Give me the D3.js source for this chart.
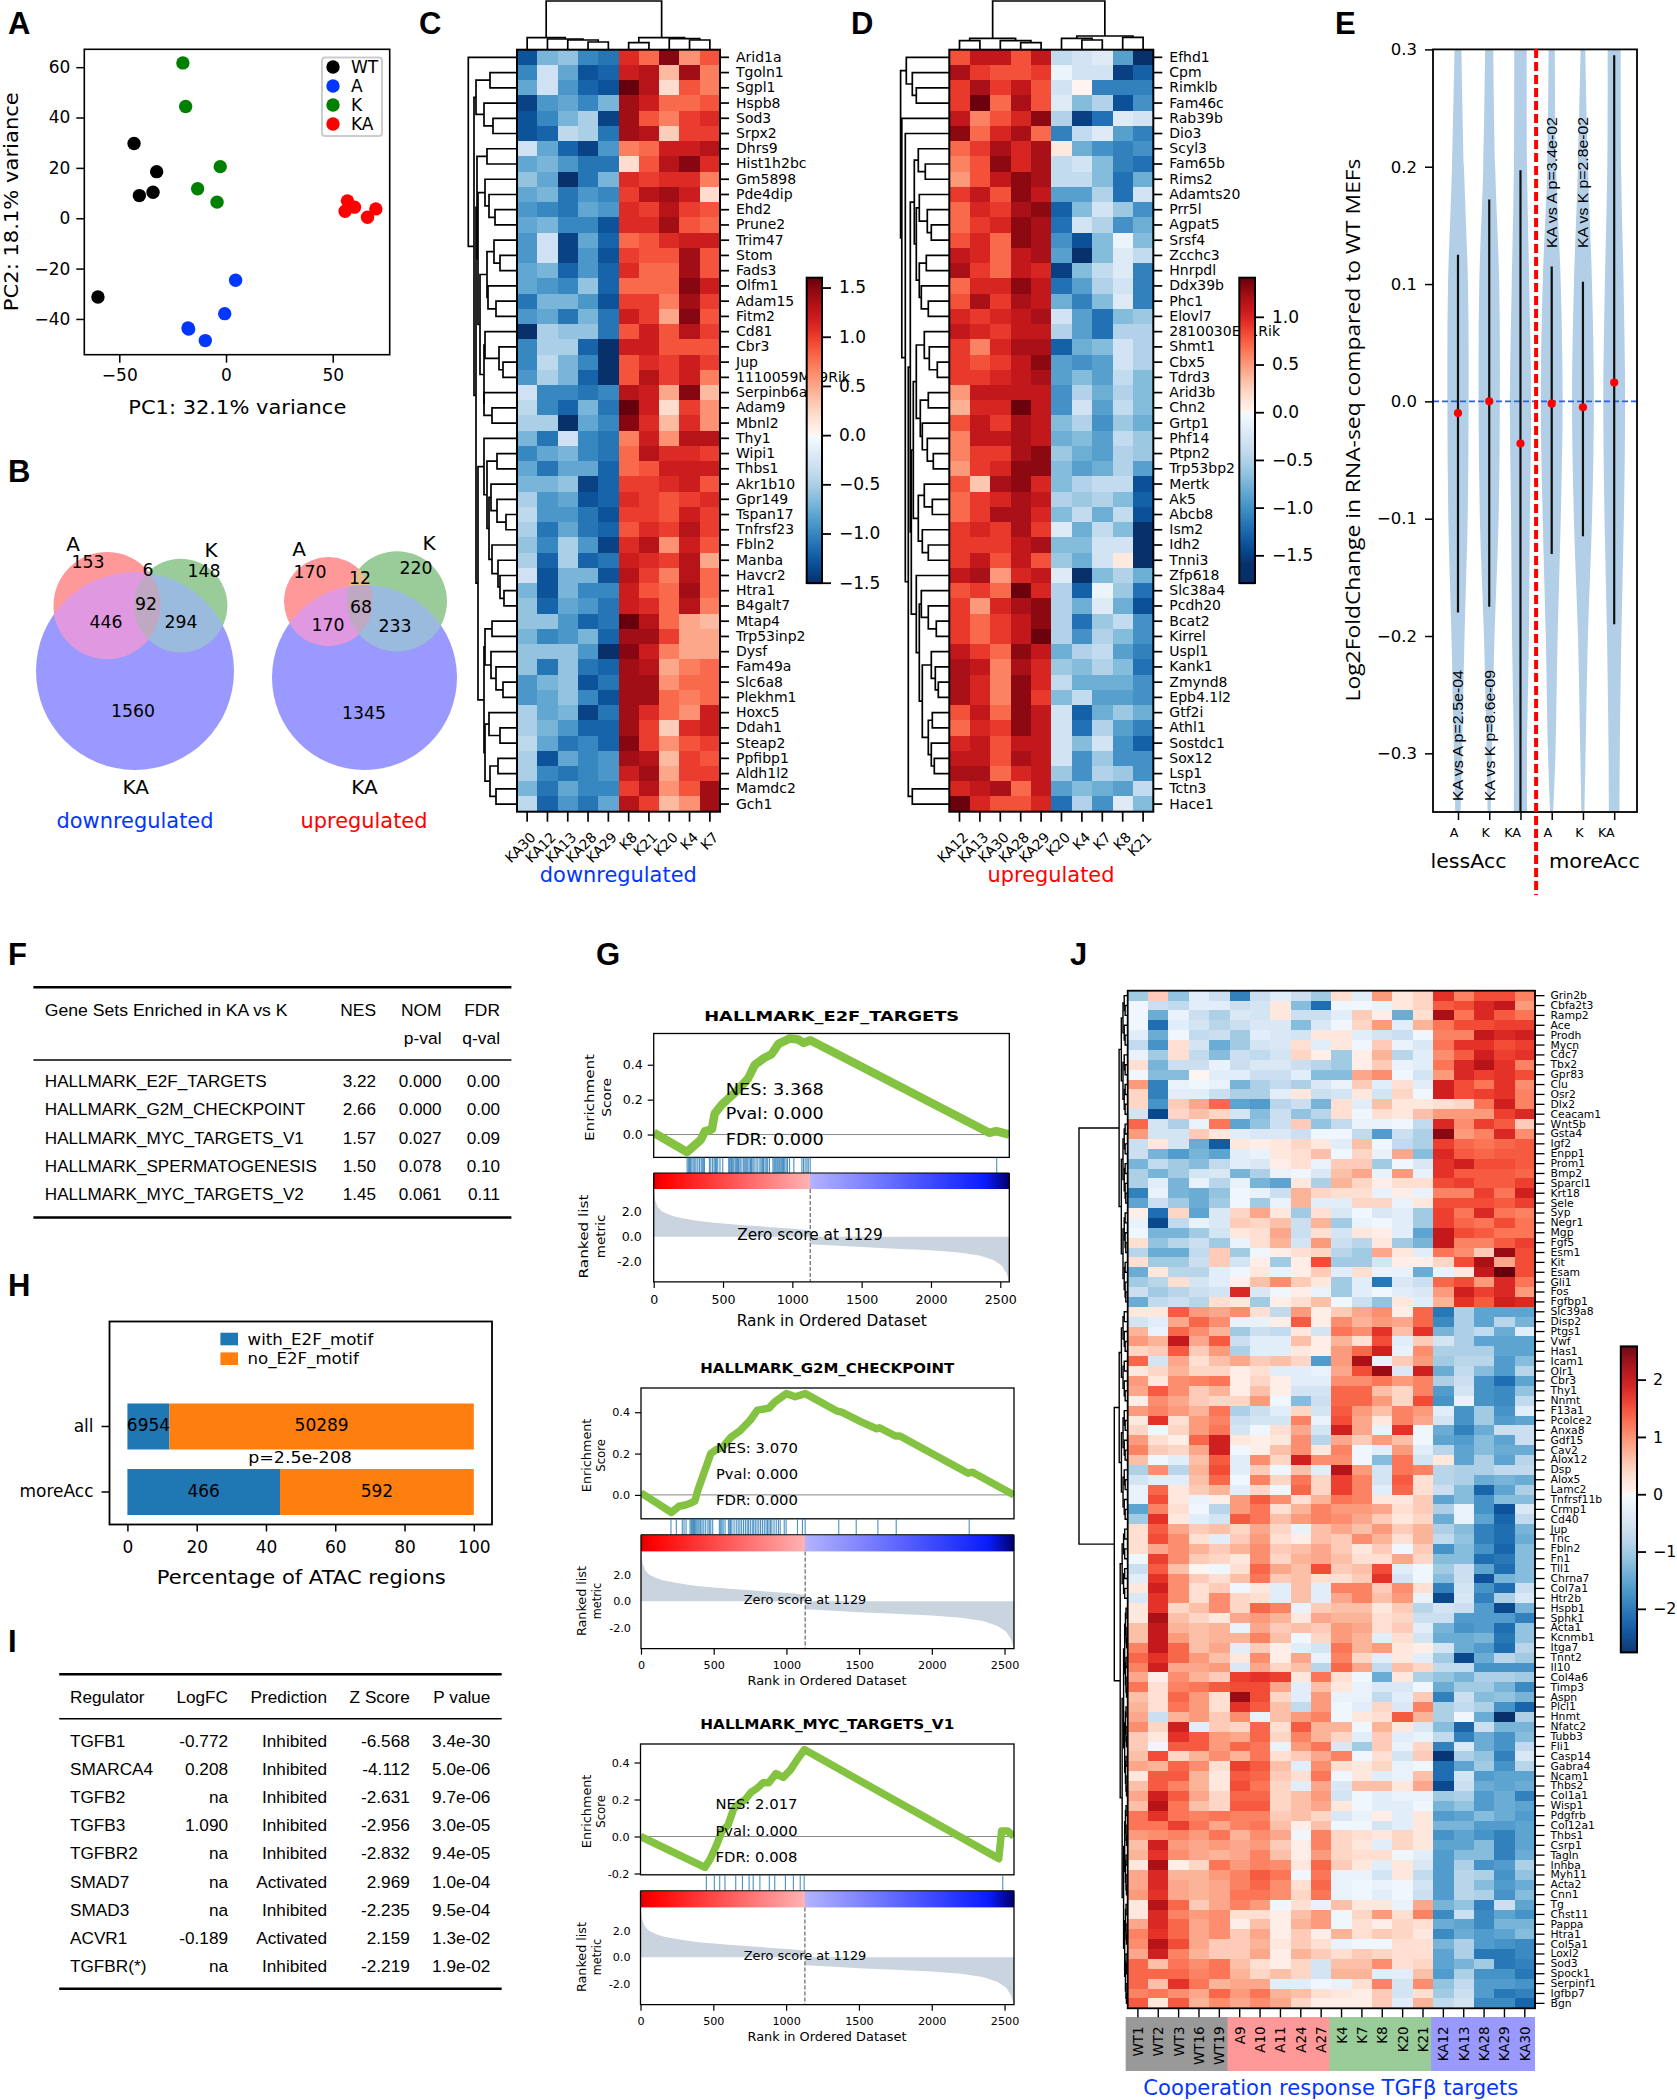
<!DOCTYPE html>
<html><head><meta charset="utf-8">
<script src="https://cdn.jsdelivr.net/npm/d3@7"></script>
<style>html,body{margin:0;padding:0;background:#fff}svg{display:block}</style>
</head><body>
<script>
// ---------- DATA ----------
const pcaGroups = ["WT","A","K","KA"];
const pcaColors = ["#000000","#0336ff","#008000","#ff0000"];
const pcaPoints = [
 [[-43.1,29.7],[-32.5,18.5],[-34.2,10.3],[-40.6,9.0],[-60,-31.3]],
 [[4.5,-24.6],[-0.6,-37.9],[-17.5,-44],[-9.7,-48.6],[-17.8,-43.6]],
 [[-20.2,61.7],[-18.9,44.4],[-2.7,20.5],[-13.3,11.7],[-4.2,6.4]],
 [[56.9,6.9],[60.2,4.4],[55.8,2.8],[70.2,3.7],[66.3,0.4]]
];
const vennDown = {c:[[107,605.5,53.5],[180.7,605.5,46.7],[135,671,99]],
 names:[["A",73,544],["K",211,550],["KA",135.7,787]],
 nums:[["153",88,562],["148",204,571],["6",148,570],["92",146,604],["446",106,622],["294",181,622],["1560",133,711]]};
const vennUp = {c:[[328.5,601.5,44.5],[397,601.3,50],[364.5,677.5,92.5]],
 names:[["A",299,549],["K",429,543],["KA",364.5,787]],
 nums:[["170",310,572],["220",416,568],["12",360,578],["68",361,607],["170",328,625],["233",395,626],["1345",364,713]]};

const cRowNames = ["Arid1a","Tgoln1","Sgpl1","Hspb8","Sod3","Srpx2","Dhrs9","Hist1h2bc","Gm5898","Pde4dip","Ehd2","Prune2","Trim47","Stom","Fads3","Olfm1","Adam15","Fitm2","Cd81","Cbr3","Jup","1110059M19Rik","Serpinb6a","Adam9","Mbnl2","Thy1","Wipi1","Thbs1","Akr1b10","Gpr149","Tspan17","Tnfrsf23","Fbln2","Manba","Havcr2","Htra1","B4galt7","Mtap4","Trp53inp2","Dysf","Fam49a","Slc6a8","Plekhm1","Hoxc5","Ddah1","Steap2","Ppfibp1","Aldh1l2","Mamdc2","Gch1"];
const cColNames = ["KA30","KA12","KA13","KA28","KA29","K8","K21","K20","K4","K7"];
const cValues = [
[-13,-7,-6,-10,-11,11,8,15,6,9],[-10,-3,-8,-13,-12,12,13,4,14,7],[-8,-3,-9,-12,-13,16,13,2,9,7],[-14,-9,-8,-10,-7,14,12,8,8,9],[-13,-10,-7,-5,-14,14,9,7,10,11],
[-13,-12,-4,-5,-11,14,13,3,10,10],[-3,-8,-12,-14,-9,7,8,12,12,13],[-8,-7,-9,-11,-11,2,9,13,15,11],[-6,-8,-15,-11,-7,11,10,11,11,7],[-8,-7,-11,-9,-10,10,13,14,12,2],
[-9,-10,-11,-8,-9,11,10,13,10,9],[-8,-7,-10,-10,-13,11,11,14,9,8],[-9,-3,-14,-8,-12,8,9,11,12,12],[-9,-3,-14,-9,-13,10,9,9,14,9],[-8,-7,-12,-9,-12,11,8,8,14,9],
[-8,-9,-10,-6,-12,8,8,8,15,12],[-11,-7,-7,-9,-13,10,10,7,14,10],[-9,-8,-11,-7,-11,12,10,5,15,9],[-15,-5,-6,-6,-11,9,12,9,13,10],[-10,-5,-5,-12,-15,12,12,9,9,9],
[-10,-4,-7,-10,-15,9,11,10,12,10],[-9,-5,-7,-12,-15,9,13,10,12,7],[-3,-10,-10,-11,-10,13,12,5,15,4],[-4,-10,-12,-7,-11,16,12,2,10,6],[-5,-5,-15,-8,-10,15,11,4,11,6],
[-7,-11,-3,-10,-11,7,12,6,13,13],[-10,-8,-7,-10,-11,8,13,11,11,10],[-8,-11,-8,-8,-12,8,9,12,12,12],[-7,-7,-6,-14,-12,10,10,11,12,9],[-5,-9,-8,-13,-12,11,10,9,10,11],
[-4,-9,-9,-11,-13,10,10,9,12,10],[-5,-11,-8,-11,-12,9,11,10,13,10],[-6,-10,-5,-9,-14,11,13,6,12,9],[-5,-12,-5,-12,-11,12,11,10,13,5],[-3,-13,-7,-7,-13,13,10,7,13,8],
[-7,-13,-7,-10,-10,12,9,8,14,8],[-6,-12,-8,-9,-11,12,11,8,13,7],[-6,-6,-9,-12,-11,16,13,8,5,4],[-7,-10,-9,-7,-12,14,14,10,5,5],[-6,-6,-6,-9,-15,15,12,7,5,5],
[-6,-11,-6,-11,-12,14,13,5,7,8],[-9,-7,-6,-13,-11,14,14,6,8,8],[-9,-8,-6,-10,-13,14,14,8,7,8],[-5,-8,-7,-14,-11,14,11,8,6,12],[-5,-7,-9,-12,-12,14,10,3,11,12],
[-4,-8,-11,-10,-12,15,10,6,9,10],[-5,-13,-8,-10,-9,14,13,4,10,9],[-5,-10,-11,-10,-9,12,14,5,10,10],[-7,-11,-8,-10,-10,10,13,6,9,14],[-4,-12,-9,-11,-8,13,10,4,6,14]];
const cRowTree = [48.7,1,[43,[41,[27,1,1],[33,1,[24,1,1]]],[41,
  [40,[30,1,1],[39,[32,1,[28,1,[22,1,1]]],[37,[30,[23,1,[17,1,1]],[29,1,[21,1,1]]],[33,[32,1,[18,1,[14,1,1]]],[33,1,[25,1,1]]]]]],
  [39,[33,1,[30,[20,1,1],[28,[26,1,[20,1,[11,1,1]]],[25,1,[19,1,[17,1,[13,1,1]]]]]]],[33,[32,[25,1,1],[26,1,[21,1,[14,1,1]]]],[32,[28,1,[17,1,1]],[27,[19,1,1],[21,1,1]]]]]]]];
const cColTree = [48.7,[12,1,[10.7,1,[9.7,1,[7.7,1,1]]]],[12,[7,1,1],[11,1,[9.7,1,1]]]];

const dRowNames = ["Efhd1","Cpm","Rimklb","Fam46c","Rab39b","Dio3","Scyl3","Fam65b","Rims2","Adamts20","Prr5l","Agpat5","Srsf4","Zcchc3","Hnrpdl","Ddx39b","Phc1","Elovl7","2810030E01Rik","Shmt1","Cbx5","Tdrd3","Arid3b","Chn2","Grtp1","Phf14","Ptpn2","Trp53bp2","Mertk","Ak5","Abcb8","Ism2","Idh2","Tnni3","Zfp618","Slc38a4","Pcdh20","Bcat2","Kirrel","Uspl1","Kank1","Zmynd8","Epb4.1l2","Gtf2i","Athl1","Sostdc1","Sox12","Lsp1","Tctn3","Hace1"];
const dColNames = ["KA12","KA13","KA30","KA28","KA29","K20","K4","K7","K8","K21"];
const dValues = [
[8,11,11,8,11,-4,-3,-2,-9,-18],[12,9,8,8,9,-1,-3,-3,-15,-13],[9,12,9,11,8,-3,0,-11,-11,-11],[9,14,7,12,8,-2,-7,-5,-14,-10],[11,6,8,10,13,-5,-15,-12,-2,-3],
[13,7,10,12,7,-11,-4,-2,-9,-11],[7,9,12,10,12,1,-8,-10,-11,-10],[6,8,13,10,12,-4,-3,-7,-11,-12],[5,8,11,13,12,-4,-4,-7,-12,-8],[9,11,8,13,11,-9,-9,-5,-12,-3],
[7,10,9,12,13,-13,-7,-3,-6,-10],[7,9,10,13,12,-12,-3,-5,-10,-8],[8,10,7,13,12,-10,-14,-7,-1,-7],[11,10,7,11,12,-9,-16,-7,-2,-4],[12,9,7,11,10,-15,-7,-4,-2,-11],
[7,10,10,13,11,-12,-9,-5,-3,-11],[8,12,9,12,11,-8,-11,-7,-2,-11],[10,9,10,11,12,-3,-9,-12,-7,-6],[11,10,9,11,11,-5,-9,-12,-5,-5],[9,6,10,12,12,-13,-8,-7,-3,-5],
[9,8,9,11,13,-9,-10,-9,-3,-5],[9,9,10,11,12,-9,-7,-9,-4,-7],[5,11,11,11,11,-10,-5,-8,-5,-7],[4,10,10,14,11,-10,-3,-9,-4,-7],[8,11,9,12,11,-7,-5,-10,-6,-8],
[6,11,11,12,11,-8,-7,-9,-4,-6],[6,9,9,12,13,-6,-8,-9,-5,-6],[5,9,10,13,13,-7,-9,-8,-5,-9],[8,3,12,13,10,-7,-5,-4,-4,-14],[7,9,10,12,11,-5,-6,-5,-7,-13],
[7,9,12,12,10,-7,-4,-8,-4,-14],[9,10,9,12,9,-2,-8,-4,-7,-16],[9,9,9,11,12,-7,-7,-3,-3,-16],[9,11,8,11,8,-6,-8,-3,1,-18],[11,12,5,10,11,-2,-16,-7,-5,-8],
[8,9,7,14,10,-5,-13,-1,-6,-12],[9,5,10,12,13,-5,-8,-2,-8,-14],[9,7,9,11,13,-5,-12,-6,-4,-10],[9,7,9,11,14,-5,-10,-5,-7,-10],[11,9,7,13,11,-8,-5,-4,-9,-11],
[12,11,6,12,10,-6,-7,-5,-7,-12],[12,10,6,13,10,-4,-8,-8,-8,-10],[12,10,6,13,9,-7,-4,-9,-9,-10],[8,11,7,13,11,-3,-13,-8,-6,-8],[7,10,9,13,11,-3,-12,-5,-9,-11],
[10,11,8,11,11,-3,-7,-3,-10,-13],[11,11,8,12,11,-3,-10,-6,-10,-10],[12,12,7,10,11,-6,-10,-5,-6,-10],[10,11,12,7,11,-9,-7,-8,-9,-4],[14,10,8,8,10,-12,-5,-10,-2,-7]];
const dRowTree = [48.7,[43,1,[37,1,[33,1,1]]],[47.5,1,[44,1,[41,
  [39,[35,[31,1,[24,1,1]],[33,[30,1,[22,1,[18,1,1]]],[30,[23,1,1],[28,1,[21,1,1]]]]],
  [38,[36,[33,[25,1,[20,1,[12,1,1]]],[29,[21,1,1],[27,1,[22,1,[16,1,1]]]]],[31,[25,1,[17,1,1]],[27,1,[21,1,1]]]],
  [33,1,[30,[28,1,[21,1,[13,1,1]]],[27,[18,1,[14,1,[11,1,1]]],[21,[17,1,1],[18,1,[15,1,1]]]]]]]],[37,1,1]]]]];
const dColTree = [48.7,[11.3,[9,1,1],[9,1,[7,1,1]]],[13.7,[11.3,1,[9.7,1,1]],[12.3,1,1]]];

const violinY = [0.3,0.2,0.1,0,-0.1,-0.2,-0.3,-0.35];
const violinWidths = [
 [.11,.19,.32,.34,.31,.21,.13,.085],[.13,.19,.32,.34,.30,.17,.085,.05],[.2,.21,.28,.34,.3,.27,.21,.21],
 [.1,.14,.29,.35,.29,.19,.12,.05],[.075,.16,.29,.35,.29,.16,.085,.05],[.21,.22,.3,.35,.31,.23,.18,.17]];
const violinLabels = ["A","K","KA","A","K","KA"];
const violinLow = [-0.18,-0.175,-0.35,-0.13,-0.115,-0.19];
const violinHigh = [0.125,0.172,0.197,0.115,0.102,0.295];
const violinMedian = [-0.01,0,-0.036,-0.002,-0.005,0.016];

const fHeader = ["Gene Sets Enriched in KA vs K","NES","NOM","FDR"];
const fRows = [["HALLMARK_E2F_TARGETS","3.22","0.000","0.00"],["HALLMARK_G2M_CHECKPOINT","2.66","0.000","0.00"],["HALLMARK_MYC_TARGETS_V1","1.57","0.027","0.09"],["HALLMARK_SPERMATOGENESIS","1.50","0.078","0.10"],["HALLMARK_MYC_TARGETS_V2","1.45","0.061","0.11"]];

const hCategories = ["all","moreAcc"];
const hWith = [6954,466];
const hWithout = [50289,592];

const iHeader = ["Regulator","LogFC","Prediction","Z Score","P value"];
const iRows = [["TGFB1","-0.772","Inhibited","-6.568","3.4e-30"],["SMARCA4","0.208","Inhibited","-4.112","5.0e-06"],["TGFB2","na","Inhibited","-2.631","9.7e-06"],["TGFB3","1.090","Inhibited","-2.956","3.0e-05"],["TGFBR2","na","Inhibited","-2.832","9.4e-05"],["SMAD7","na","Activated","2.969","1.0e-04"],["SMAD3","na","Inhibited","-2.235","9.5e-04"],["ACVR1","-0.189","Activated","2.159","1.3e-02"],["TGFBR(*)","na","Inhibited","-2.219","1.9e-02"]];

const metricRank = [0,10,30,60,100,150,220,300,400,500,650,800,950,1050,1128,1129,1300,1500,1750,2000,2200,2350,2450,2510,2545,2565];
const metricValue = [3.8,2.9,2.35,2.0,1.8,1.6,1.45,1.3,1.15,1.05,.92,.8,.68,.6,.5,-.6,-.7,-.82,-.95,-1.08,-1.25,-1.5,-1.85,-2.3,-2.9,-3.6];
const es1 = [[0,.01],[240,-.1],[340,-.03],[370,.02],[420,.03],[440,.12],[490,.17],[530,.2],[600,.25],[680,.32],[730,.40],[800,.44],[850,.46],[900,.52],[980,.55],[1040,.545],[1080,.525],[1130,.54],[2420,.01],[2470,.02],[2565,0]];
const es2 = [[0,.01],[210,-.085],[260,-.055],[300,-.05],[340,-.04],[370,-.03],[390,.02],[420,.08],[450,.14],[480,.2],[520,.22],[560,.23],[620,.28],[680,.31],[750,.36],[800,.41],[880,.42],[920,.45],[1000,.49],[1060,.475],[1130,.49],[1350,.405],[1380,.4],[1480,.365],[1510,.355],[1620,.32],[1640,.325],[1750,.285],[1780,.285],[2250,.105],[2280,.11],[2565,0]];
const es3 = [[0,0],[442,-.167],[480,-.12],[520,-.05],[560,.03],[600,.06],[640,.15],[680,.18],[720,.2],[760,.24],[800,.26],[840,.29],[880,.29],[930,.34],[980,.32],[1030,.36],[1080,.42],[1125,.47],[2440,-.11],[2460,-.12],[2480,.03],[2520,.03],[2565,0]];
const hits1 = [241,250,258,266,275,285,296,305,318,330,342,350,358,366,402,412,425,436,445,452,462,478,498,541,548,556,562,570,578,588,596,604,612,622,630,645,652,660,668,678,688,698,705,715,724,738,751,766,775,784,792,803,812,822,835,860,868,875,882,890,897,905,912,920,928,936,945,955,965,980,1011,1069,1080,1092,1105,1115,1129,2474];
const hits2 = [206,243,284,296,310,337,345,350,356,362,368,376,384,392,400,410,420,432,445,460,470,480,493,539,548,556,565,578,601,610,616,625,640,655,668,680,692,705,718,730,740,752,765,775,786,798,810,822,835,848,860,870,880,890,900,915,930,945,957,985,998,1076,1110,1129,1360,1480,1629,1755,2257];
const hits3 = [452,507,544,580,654,700,746,774,820,885,922,995,1050,1097,1124,2488];
const gseaTitles = ["HALLMARK_E2F_TARGETS","HALLMARK_G2M_CHECKPOINT","HALLMARK_MYC_TARGETS_V1"];
const gseaStats = [["NES: 3.368","Pval: 0.000","FDR: 0.000"],["NES: 3.070","Pval: 0.000","FDR: 0.000"],["NES: 2.017","Pval: 0.000","FDR: 0.008"]];

const jRowNames = ["Grin2b","Cbfa2t3","Ramp2","Ace","Prodh","Mycn","Cdc7","Tbx2","Gpr83","Clu","Osr2","Dlx2","Ceacam1","Wnt5b","Gsta4","Igf2","Enpp1","Prom1","Bmp2","Sparcl1","Krt18","Sele","Syp","Negr1","Mgp","Fgf5","Esm1","Kit","Esam","Gli1","Fos","Fgfbp1","Slc39a8","Disp2","Ptgs1","Vwf","Has1","Icam1","Olr1","Cbr3","Thy1","Nnmt","F13a1","Pcolce2","Anxa8","Gdf15","Cav2","Alox12","Dsp","Alox5","Lamc2","Tnfrsf11b","Crmp1","Cd40","Jup","Tnc","Fbln2","Fn1","Tll1","Chrna7","Col7a1","Htr2b","Hspb1","Sphk1","Acta1","Kcnmb1","Itga7","Tnnt2","Il10","Col4a6","Timp3","Aspn","Plcl1","Hnmt","Nfatc2","Tubb3","Fli1","Casp14","Gabra4","Ncam1","Thbs2","Col1a1","Wisp1","Pdgfrb","Col12a1","Thbs1","Csrp1","Tagln","Inhba","Myh11","Acta2","Cnn1","Tg","Chst11","Pappa","Htra1","Col5a1","Loxl2","Sod3","Spock1","Serpinf1","Igfbp7","Bgn"];
const jColNames = ["WT1","WT2","WT3","WT16","WT19","A9","A10","A11","A24","A27","K4","K7","K8","K20","K21","KA12","KA13","KA28","KA29","KA30"];
const jValues = [
[-10,5,-11,-3,-6,-19,-6,-3,-6,-10,3,-3,9,2,4,17,11,15,15,11],[-1,-6,-7,-3,-3,-6,-5,2,-12,-21,-1,-1,-2,2,4,14,15,18,20,9],[-1,-14,-2,-6,-9,-4,-5,2,-6,-6,-3,5,1,-14,3,22,12,18,14,12],[-1,-21,-3,-5,-8,-6,-4,-4,-12,-4,-1,4,9,-3,7,12,15,15,16,16],
[-3,-14,-1,-7,-6,-10,-3,-4,-5,2,2,-3,-5,-6,-1,11,11,20,18,19],[-7,-17,3,-5,-14,-10,-5,-4,3,-3,2,-1,5,-2,-4,12,17,17,15,16],[-2,-10,3,-7,-12,-6,-7,-5,4,1,-10,1,7,-8,-3,10,14,19,16,17],[3,-13,-6,-6,-2,-6,-4,-4,-6,-8,-10,1,5,-2,-3,12,18,21,17,11],
[-1,-12,-12,0,-3,-3,-6,-6,-3,-12,-12,8,10,-1,-5,9,18,16,17,15],[9,-19,-2,-1,-2,-13,-9,-7,-9,-4,-2,5,-3,3,-3,19,15,12,17,10],[4,-19,-3,-3,-6,-9,-9,-3,2,-6,-5,2,-5,4,-1,19,15,16,17,11],[4,-17,5,8,13,-15,-16,-8,-6,-13,3,-3,6,2,2,3,4,12,19,11],
[-5,-25,4,6,4,-5,-12,-6,-11,-8,3,-1,3,2,6,9,9,9,16,18],[13,-5,-9,-2,12,-15,-11,-6,5,-11,-7,-2,-2,-1,-7,18,10,16,14,5],[9,-5,-5,5,2,-3,-4,-4,-6,-1,-1,-7,-16,-6,-9,24,9,11,18,10],[-6,2,-5,-14,-23,2,1,2,4,2,-3,6,-1,-7,-9,16,13,12,13,14],
[-6,-13,-16,-13,-15,-3,-2,2,3,6,-1,4,-2,8,-12,18,14,13,14,14],[-13,-7,-10,-12,-7,-3,-4,1,3,-2,5,5,-10,-1,-4,17,19,15,15,14],[-9,-13,-10,-5,-4,-13,-9,-2,-1,-4,6,8,-2,9,-2,17,14,14,14,13],[-9,-3,-13,-2,-8,-2,-13,-15,2,-9,7,4,1,3,3,15,16,14,14,16],
[-19,-2,-13,-14,-11,-1,-2,-6,7,4,3,3,-2,1,-2,11,11,16,12,19],[-15,-6,-10,-14,-10,-1,-10,-2,7,-3,-3,4,4,-2,2,15,15,15,14,16],[1,-21,4,-15,-4,4,8,2,-10,3,-4,-1,-4,-3,-10,16,12,18,12,11],[-2,-25,-7,-2,-4,5,4,6,-6,7,-10,-2,-1,-3,-10,16,13,12,15,12],
[-1,-13,-13,-10,-5,2,3,8,-6,3,-5,2,1,-3,-15,20,15,14,12,12],[3,-11,-8,-6,-10,-2,3,7,-5,9,-6,-8,2,-10,-13,20,11,11,14,16],[-8,-14,-14,-7,5,-10,-1,1,3,4,-8,-10,8,2,-3,12,10,5,23,15],[3,-10,-10,-6,5,-5,1,-10,1,15,-10,-10,-5,1,1,4,15,22,8,15],
[-14,2,-8,-8,-3,-1,2,-2,1,5,-3,3,-2,-2,-14,-2,2,20,26,15],[-10,-8,3,-5,-3,1,6,10,5,2,-10,-3,-20,-4,-6,13,15,9,18,12],[-6,-10,-8,-6,-5,18,-4,-1,1,-2,-10,-3,-1,-3,-4,9,19,16,18,9],[-14,-7,-6,-8,3,2,-10,1,3,6,-1,-6,-11,2,-3,7,17,14,19,18],
[2,2,14,9,8,10,3,-7,9,1,5,8,10,1,13,-20,-9,-15,-15,-15],[-5,-3,8,13,10,-2,-2,1,14,1,10,7,9,8,13,-18,-9,-15,-8,-13],[7,-2,13,10,7,-10,-6,-7,2,-5,12,10,17,6,17,-13,-9,-7,-14,-3],[9,7,20,8,14,-6,-3,-3,6,1,7,3,15,-3,5,-5,-9,-15,-15,-15],
[4,5,14,5,9,-9,-3,-3,2,1,9,13,19,-2,10,-9,-9,-9,-15,-15],[13,-5,8,3,6,8,5,6,4,-16,9,22,-2,5,9,-10,-8,-8,-16,-12],[2,4,7,4,4,1,3,-3,-3,-2,8,15,23,-4,19,-14,-7,-12,-16,-8],[9,2,10,11,12,1,4,1,-3,-3,10,10,12,9,11,-9,-6,-17,-21,-15],
[8,14,10,5,7,1,6,1,-5,-5,13,13,6,4,11,-16,-5,-17,-18,-11],[1,10,8,5,4,4,9,-1,-12,-6,13,13,9,4,15,-17,-2,-17,-18,-7],[9,11,9,7,12,-9,-6,-3,4,-5,14,9,6,11,9,-3,-17,-10,-17,-3],[2,17,3,9,11,-6,-5,-5,11,-2,15,8,2,11,8,-5,-17,-10,-16,-15],
[4,-1,4,9,12,-5,-1,3,8,-5,19,8,-2,17,-1,-14,-19,-14,-6,-6],[9,3,1,13,19,2,1,2,10,-8,8,5,9,6,-1,-15,-16,-12,-15,-6],[11,5,4,8,19,-1,1,6,10,2,11,-1,-3,9,-3,-8,-15,-12,-14,-14],[6,-1,-3,6,14,-3,10,4,19,10,10,-1,-12,12,-5,2,-15,-9,-15,-8],
[-9,10,-8,7,15,-3,5,-1,6,-3,21,9,-5,12,11,-8,-9,-9,-7,-7],[-5,-3,-3,6,13,-1,11,4,12,4,16,11,-5,14,3,-8,-9,-14,-13,-14],[-2,13,2,5,7,-3,4,-1,13,4,16,11,-3,13,3,-6,-12,-22,-15,-9],[-2,15,2,-2,1,9,14,10,3,7,12,11,2,2,5,-15,-12,-17,-12,-12],
[-15,11,3,-1,-8,9,12,3,7,11,9,9,8,3,5,-9,-2,-17,-24,-4],[-10,17,2,-3,-5,14,12,6,9,11,10,8,5,2,4,-14,-2,-15,-22,-7],[3,14,8,5,6,4,8,4,-2,6,8,6,9,5,7,-9,-12,-19,-21,-13],[3,15,10,3,-3,5,9,3,1,6,5,10,7,3,7,-7,-11,-19,-21,-14],
[3,8,10,7,5,7,10,5,6,8,5,2,5,-1,5,-17,-12,-17,-22,-12],[-1,16,10,5,4,2,10,4,7,8,6,3,3,8,4,-12,-12,-21,-20,-12],[-6,14,6,0,-1,3,13,8,6,15,5,6,15,-3,-1,-10,-6,-15,-21,-12],[-3,17,10,5,3,6,12,5,6,3,3,5,17,-5,-1,-12,-6,-24,-13,-12],
[2,19,10,3,5,-1,2,-3,6,-3,11,11,5,10,3,-19,-5,-17,-21,-6],[-4,17,10,3,10,4,3,-3,6,-3,8,11,6,9,-2,-25,-4,-19,-9,-4],[2,17,4,6,10,4,13,11,-2,5,6,6,2,5,-8,-5,-6,-16,-25,-13],[2,22,6,4,2,8,9,7,2,8,7,7,3,4,-6,-6,-16,-16,-16,-19],
[6,20,7,6,7,-2,8,5,6,5,9,8,3,5,-3,-13,-17,-16,-21,-11],[6,20,9,6,7,7,11,6,-1,4,9,7,-3,3,-5,-14,-14,-13,-20,-11],[11,20,13,6,8,-3,5,1,-3,-5,12,7,9,2,1,-5,-14,-16,-21,-8],[13,17,13,9,6,2,10,1,8,-2,11,4,-3,2,-3,-10,-25,-14,-8,-10],
[11,19,8,8,9,-4,8,4,6,-8,13,8,-7,6,4,-7,-7,-17,-17,-17],[8,1,10,7,5,16,17,16,2,12,3,-1,-14,2,-9,-11,-13,-9,-9,-10],[12,3,11,12,14,15,15,8,-3,6,2,-2,-4,-4,-1,-14,-10,-10,-13,-18],[6,3,13,9,3,23,15,4,-3,9,-2,-2,-7,-3,5,-19,-6,-12,-11,-13],
[7,3,12,9,3,17,14,6,-7,9,-1,-3,4,-4,11,-9,-7,-9,-17,-22],[8,-6,7,9,5,10,-2,6,9,11,-1,2,3,14,7,-9,-1,-14,-28,-9],[10,4,19,-3,5,4,13,3,14,7,7,-1,7,2,-4,-12,-22,-6,-13,-13],[5,2,17,14,9,8,13,4,11,7,4,-3,5,-3,-2,-7,-19,-14,-17,-12],
[5,-1,14,14,9,13,12,-2,9,12,-4,-10,5,-2,4,-19,-4,-14,-17,-7],[6,15,4,7,10,7,12,3,5,8,11,-1,3,-5,5,-27,-9,-11,-19,-4],[8,7,13,10,3,16,14,6,-3,10,3,2,4,-2,-1,-21,-15,-10,-17,-8],[2,14,14,7,2,14,13,5,3,12,-1,2,-3,-2,6,-21,-5,-16,-15,-15],
[6,14,11,7,2,15,12,4,-3,8,-4,6,6,2,8,-25,-6,-14,-15,-14],[8,19,14,8,4,13,13,4,6,9,-5,-1,-3,-2,-2,-10,-9,-16,-14,-19],[6,21,12,6,4,14,14,4,6,8,2,-1,-3,-3,-1,-13,-11,-16,-14,-15],[12,17,12,11,12,11,11,5,6,4,-4,-2,1,-3,2,-16,-15,-12,-14,-16],
[12,12,16,12,8,11,12,6,1,6,-1,-1,-5,-3,2,-13,-13,-16,-16,-15],[9,10,11,9,12,7,10,8,-1,11,4,3,2,4,2,-17,-15,-17,-19,-15],[6,19,9,8,9,8,9,5,1,11,4,2,-3,4,2,-15,-15,-12,-19,-15],[7,17,10,8,7,8,11,6,1,9,4,3,3,-1,-3,-16,-12,-12,-19,-14],
[2,22,1,4,12,9,11,10,2,13,5,2,-3,2,-4,-16,-9,-17,-16,-9],[8,18,7,7,9,11,14,12,-1,12,-2,-2,-5,2,-7,-16,-8,-9,-17,-11],[8,18,8,7,8,11,13,10,3,13,-2,-1,-2,-1,-5,-16,-8,-12,-16,-14],[9,17,8,7,8,12,12,10,4,12,-2,-1,-3,-1,-6,-16,-8,-9,-17,-12],
[2,21,13,5,8,11,9,-1,3,-2,6,2,2,-2,8,-13,-11,-19,-6,-15],[2,18,11,9,10,3,3,1,6,9,-1,4,9,3,11,-18,-6,-18,-15,-17],[8,18,13,8,10,1,6,1,7,9,-1,3,1,4,3,-14,-15,-18,-13,-13],[11,17,13,8,10,5,8,1,5,1,7,3,5,4,2,-18,-14,-16,-15,-12],
[10,21,15,8,5,5,7,2,5,3,-2,-1,-1,3,3,-13,-9,-16,-17,-18],[8,19,11,7,5,5,8,1,7,5,3,5,4,3,3,-15,-9,-20,-20,-18],[13,6,12,10,12,6,3,1,4,-5,6,6,10,3,4,-15,-13,-10,-20,-19],[13,13,13,11,12,7,4,6,4,-5,7,7,-3,-3,6,-16,-9,-17,-17,-20],
[13,6,17,12,7,8,8,-3,-3,-1,-2,3,11,-5,10,-11,-7,-16,-16,-17],[11,12,10,8,13,9,12,7,6,3,2,1,5,-5,3,-10,-6,-16,-20,-19],[14,2,14,7,10,8,10,8,4,1,1,1,5,-3,7,-7,-5,-18,-18,-22]];
const jRowTree = [48.7,[8.6,13,19],[13.4,[8.5,10,12],[7.5,8,41]]];
const jGroups = [["#999999",0,4],["#ff9999",5,9],["#99cc99",10,14],["#9999ff",15,19]];

// ---------- HELPERS ----------
const DV = "'DejaVu Sans',sans-serif", LS = "'Liberation Sans',Arial,sans-serif", NARROW = "'Liberation Sans Narrow','Liberation Sans',sans-serif";
const BLUE = "#0336ff", RED = "#ff0000";
const svg = d3.select("body").append("svg").attr("width",1677).attr("height",2100).attr("viewBox","0 0 1677 2100");
svg.append("rect").attr("width",1677).attr("height",2100).attr("fill","#fff");
const defs = svg.append("defs");

function T(x,y,s,o={}){
  const t = (o.g||svg).append("text")
    .attr("transform",`translate(${x},${y})`+(o.rot?` rotate(${o.rot})`:""))
    .attr("font-family",o.family||DV).attr("font-size",o.size||14)
    .attr("text-anchor",o.anchor||"start").attr("dominant-baseline","central")
    .attr("fill",o.fill||"#000").text(s);
  if(o.weight) t.attr("font-weight",o.weight);
  if(o.len) t.attr("textLength",o.len).attr("lengthAdjust","spacingAndGlyphs");
  return t;
}
function AX(axis,x,y,size,w=1.5){
  const g = svg.append("g").attr("transform",`translate(${x},${y})`).call(axis);
  g.select(".domain").remove();
  g.selectAll(".tick line").attr("stroke","#000").attr("stroke-width",w);
  g.selectAll("text").attr("font-family",DV).attr("font-size",size).attr("fill","#000");
  return g;
}
function frame(x0,y0,x1,y1,w=2){
  svg.append("rect").attr("x",x0).attr("y",y0).attr("width",x1-x0).attr("height",y1-y0).attr("fill","none").attr("stroke","#000").attr("stroke-width",w);
}
const panels = [["A",8,34],["B",8,482],["C",419,34],["D",851,34],["E",1335,34],["F",8,965],["G",596,965],["H",8,1296],["I",8,1652],["J",1070,965]];
panels.forEach(p=>svg.append("text").attr("x",p[1]).attr("y",p[2]).attr("font-family",LS).attr("font-weight","bold").attr("font-size",31).text(p[0]));

// diverging colour: Blues below zero, Reds above
const divColor = (vmin,vmax)=> v => v>=0 ? d3.interpolateReds(Math.min(1,v/vmax)) : d3.interpolateBlues(Math.min(1,v/vmin));

function colorbar(x0,x1,y0,y1,vmin,vmax,ticks,col,size,fmt,pad=8){
  const y = d3.scaleLinear().domain([vmin,vmax]).range([y1,y0]);
  const g = svg.append("g");
  g.selectAll("rect").data(d3.range(y0,y1,1)).join("rect")
   .attr("x",x0).attr("width",x1-x0).attr("y",d=>d).attr("height",1.5).attr("fill",d=>col(y.invert(d+.5)));
  frame(x0,y0,x1,y1,2);
  AX(d3.axisRight(y).tickValues(ticks).tickSize(9).tickPadding(pad).tickFormat(fmt),x1,0,size,1.8);
}

// dendrogram: nested [height,left,right]; a number n is a run of n leaves
function expand(node,parentH){
  if(typeof node==="number"){
    if(node===1) return {leaf:true};
    const a=Math.floor(node/2); const h=parentH*.74;
    return {h,l:expand(a,h),r:expand(node-a,h)};
  }
  return {h:node[0],l:expand(node[1],node[0]),r:expand(node[2],node[0])};
}
function dendrogram(tree,leafPos,place,w){
  let i=0; const segs=[];
  (function walk(n){
    if(n.leaf){ n.p=leafPos(i++); n.hh=0; return; }
    walk(n.l); walk(n.r);
    n.p=(n.l.p+n.r.p)/2; n.hh=n.h;
    segs.push([[n.l.p,n.l.hh],[n.l.p,n.h],[n.r.p,n.h],[n.r.p,n.r.hh]]);
  })(expand(tree,0));
  const line=d3.line().x(d=>place(d)[0]).y(d=>place(d)[1]);
  svg.append("g").selectAll("path").data(segs).join("path")
    .attr("d",line).attr("fill","none").attr("stroke","#000").attr("stroke-width",w);
}

function heatmap(o){
  const x=d3.scaleBand().domain(o.cols).range([o.x0,o.x1]);
  const y=d3.scaleBand().domain(o.rows).range([o.y0,o.y1]);
  const cells=o.values.flatMap((r,i)=>r.map((v,j)=>({v:v/10,r:o.rows[i],c:o.cols[j]})));
  svg.append("g").attr("shape-rendering","crispEdges").selectAll("rect").data(cells).join("rect")
    .attr("x",d=>x(d.c)).attr("y",d=>y(d.r)).attr("width",x.bandwidth()+.5).attr("height",y.bandwidth()+.5)
    .attr("fill",d=>o.color(d.v));
  frame(o.x0,o.y0,o.x1,o.y1,o.fw||2);
  AX(d3.axisRight(y).tickSize(o.tick).tickPadding(o.pad),o.x1,0,o.fs,o.tw||1.7);
  return {x,y};
}
function slantedColumns(x,yBottom){
  const colAxis=AX(d3.axisBottom(x).tickSize(10).tickPadding(0),0,yBottom,14,1.7);
  colAxis.selectAll(".tick text").attr("text-anchor","end").attr("x",0).attr("y",0).attr("dy","0.35em")
    .attr("transform","translate(6,23) rotate(-45)");
}

// ---------- PANEL A ----------
{
  const x=d3.scaleLinear().domain([-66.4,76.7]).range([84.3,389.7]);
  const y=d3.scaleLinear().domain([-54.2,67.1]).range([354.7,49.3]);
  pcaGroups.forEach((g,i)=>{
    svg.append("g").selectAll("circle").data(pcaPoints[i]).join("circle")
      .attr("cx",d=>x(d[0])).attr("cy",d=>y(d[1])).attr("r",6.7).attr("fill",pcaColors[i]);
  });
  frame(84.3,49.3,389.7,354.7,1.6);
  AX(d3.axisBottom(x).tickValues([-50,0,50]).tickSize(8).tickPadding(6),0,354.7,17);
  AX(d3.axisLeft(y).tickValues([-40,-20,0,20,40,60]).tickSize(8).tickPadding(6),84.3,0,17);
  T(237.3,406.7,"PC1: 32.1% variance",{size:20,anchor:"middle",len:218});
  T(11,201.7,"PC2: 18.1% variance",{size:19.6,anchor:"middle",rot:-90,len:219});
  svg.append("rect").attr("x",322).attr("y",57.5).attr("width",60).attr("height",78.5).attr("rx",3).attr("fill","#fff").attr("stroke","#ccc").attr("stroke-width",2);
  pcaGroups.forEach((g,i)=>{
    const ly=d3.scaleLinear().domain([0,3]).range([67,124])(i);
    svg.append("circle").attr("cx",333).attr("cy",ly).attr("r",6.7).attr("fill",pcaColors[i]);
    T(351,ly,g,{size:17});
  });
}

// ---------- PANEL B ----------
function venn(v,id){
  const cs=v.c, cir=(i,fill,clip)=>{
    const e=svg.append("circle").attr("cx",cs[i][0]).attr("cy",cs[i][1]).attr("r",cs[i][2]).attr("fill",fill);
    if(clip) e.attr("clip-path",`url(#${clip})`);
    return e;
  };
  ["A","K"].forEach((n,i)=>{
    defs.append("clipPath").attr("id",id+n).append("circle").attr("cx",cs[i][0]).attr("cy",cs[i][1]).attr("r",cs[i][2]);
  });
  cir(2,"#9999ff"); cir(0,"#ff9999"); cir(1,"#99cc99");
  cir(1,"#e6bf90",id+"A");
  svg.append("circle").attr("cx",cs[2][0]).attr("cy",cs[2][1]).attr("r",cs[2][2]).attr("fill","#e099e0").attr("clip-path",`url(#${id}A)`);
  svg.append("circle").attr("cx",cs[2][0]).attr("cy",cs[2][1]).attr("r",cs[2][2]).attr("fill","#9bbbde").attr("clip-path",`url(#${id}K)`);
  svg.append("g").attr("clip-path",`url(#${id}A)`).append("circle").attr("cx",cs[2][0]).attr("cy",cs[2][1]).attr("r",cs[2][2]).attr("fill","#bfa9c2").attr("clip-path",`url(#${id}K)`);
  v.names.forEach(n=>T(n[1],n[2],n[0],{size:20,anchor:"middle"}));
  v.nums.forEach(n=>T(n[1],n[2],n[0],{size:17.3,anchor:"middle"}));
}
venn(vennDown,"vd"); venn(vennUp,"vu");
T(135,821,"downregulated",{size:21,anchor:"middle",fill:BLUE,len:157});
T(364,821,"upregulated",{size:21,anchor:"middle",fill:RED,len:127});

// ---------- PANEL C ----------
{
  const col=divColor(-1.5,1.6);
  const o={x0:517,x1:720,y0:49.7,y1:811.7,rows:cRowNames,cols:cColNames,values:cValues,color:col,tick:9,pad:7,fs:14};
  const {x,y}=heatmap(o);
  slantedColumns(x,o.y1);
  dendrogram(cRowTree,i=>y(cRowNames[i])+y.bandwidth()/2,d=>[o.x0-d[1],d[0]],1.7);
  dendrogram(cColTree,i=>x(cColNames[i])+x.bandwidth()/2,d=>[d[0],o.y0-d[1]],1.7);
  colorbar(806.7,822,277.7,583,-1.503,1.6,[-1.5,-1,-.5,0,.5,1,1.5],col,17,d3.format(".1f"));
  T(618.3,875,"downregulated",{size:21,anchor:"middle",fill:BLUE,len:157});
}
// ---------- PANEL D ----------
{
  const col=divColor(-1.6,1.41);
  const o={x0:949.3,x1:1153.3,y0:49.7,y1:811.7,rows:dRowNames,cols:dColNames,values:dValues,color:col,tick:9,pad:7,fs:14};
  const {x,y}=heatmap(o);
  slantedColumns(x,o.y1);
  dendrogram(dRowTree,i=>y(dRowNames[i])+y.bandwidth()/2,d=>[o.x0-d[1],d[0]],1.7);
  dendrogram(dColTree,i=>x(dColNames[i])+x.bandwidth()/2,d=>[d[0],o.y0-d[1]],1.7);
  colorbar(1239.3,1255,277.7,583,-1.79,1.41,[-1.5,-1,-.5,0,.5,1],col,17,d3.format(".1f"));
  T(1051,875,"upregulated",{size:21,anchor:"middle",fill:RED,len:127});
}

// ---------- PANEL E ----------
{
  const x=d3.scaleLinear().domain([-.8,5.73]).range([1433,1637]);
  const y=d3.scaleLinear().domain([-.35,.3]).range([812,49.4]);
  violinWidths.forEach((w,i)=>{
    const area=d3.area().y((d,k)=>y(violinY[k])).x0(d=>x(i-d)).x1(d=>x(i+d)).curve(d3.curveCatmullRom);
    svg.append("path").attr("d",area(w)).attr("fill","#b3cfe7");
  });
  svg.append("line").attr("x1",1433).attr("x2",1637).attr("y1",y(0)).attr("y2",y(0)).attr("stroke","#2f5fe0").attr("stroke-width",1.6).attr("stroke-dasharray","6 3");
  svg.append("g").selectAll("line").data(violinLow).join("line")
    .attr("x1",(d,i)=>x(i)).attr("x2",(d,i)=>x(i)).attr("y1",d=>y(d)).attr("y2",(d,i)=>y(violinHigh[i]))
    .attr("stroke","#111").attr("stroke-width",2.2);
  svg.append("g").selectAll("circle").data(violinMedian).join("circle")
    .attr("cx",(d,i)=>x(i)).attr("cy",d=>y(d)).attr("r",4.1).attr("fill",RED);
  frame(1433,49.4,1637,812,1.8);
  AX(d3.axisLeft(y).tickValues([-.3,-.2,-.1,0,.1,.2,.3]).tickSize(8).tickPadding(8).tickFormat(d3.format(".1f")),1433,0,16.5);
  const bx=AX(d3.axisBottom(x).tickValues(d3.range(6)).tickSize(8).tickPadding(8).tickFormat(i=>violinLabels[i]),0,812,12.7);
  bx.selectAll("text").attr("text-anchor","end");
  svg.append("line").attr("x1",x(2.5)).attr("x2",x(2.5)).attr("y1",49).attr("y2",895).attr("stroke",RED).attr("stroke-width",4).attr("stroke-dasharray","9 4");
  T(1468.5,861,"lessAcc",{size:20,anchor:"middle",len:76});
  T(1594.5,861,"moreAcc",{size:20,anchor:"middle",len:91});
  T(1352,430,"Log2FoldChange in RNA-seq compared to WT MEFs",{size:20,anchor:"middle",rot:-90,len:543,family:"'Open Sans','DejaVu Sans',sans-serif"});
  [["KA vs A p=2.5e-04",x(0),801],["KA vs K p=8.6e-09",x(1),801],["KA vs A p=3.4e-02",x(3),248],["KA vs K p=2.8e-02",x(4),248]].forEach(l=>
    T(l[1],l[2],l[0],{size:15,rot:-90,len:131,family:NARROW}));
}

// ---------- PANEL F ----------
{
  const rule=(y,w,x0,x1)=>svg.append("line").attr("x1",x0).attr("x2",x1).attr("y1",y).attr("y2",y).attr("stroke","#000").attr("stroke-width",w);
  rule(987.2,2.6,33.4,511.4); rule(1060,1.4,33.4,511.4); rule(1217.5,2.6,33.4,511.4);
  const cx=[44.8,376,441.5,500], as=["start","end","end","end"], fs=17.1;
  fHeader.forEach((h,i)=>T(cx[i],1009.8,h,{family:LS,size:17.4,anchor:as[i],len:i===0?242.7:null}));
  T(441.5,1038,"p-val",{family:LS,size:17.4,anchor:"end"});
  T(500,1038,"q-val",{family:LS,size:17.4,anchor:"end"});
  const ry=d3.scalePoint().domain(d3.range(5)).range([1081.7,1194.5]);
  fRows.forEach((r,k)=>r.forEach((s,i)=>T(cx[i],ry(k),s,{family:LS,size:fs,anchor:as[i]})));
}

// ---------- PANEL H ----------
{
  const x=d3.scaleLinear().domain([-5.17,105.25]).range([109.5,492]);
  const y=d3.scaleBand().domain(hCategories).range([1403.5,1515]).paddingInner(.298);
  const share=hWith.map((w,i)=>100*w/(w+hWithout[i]));
  const g=svg.append("g");
  g.selectAll("rect.a").data(hCategories).join("rect").attr("class","a")
    .attr("x",x(0)).attr("y",d=>y(d)).attr("height",y.bandwidth()).attr("width",(d,i)=>x(share[i])-x(0)).attr("fill","#1f77b4");
  g.selectAll("rect.b").data(hCategories).join("rect").attr("class","b")
    .attr("x",(d,i)=>x(share[i])).attr("y",d=>y(d)).attr("height",y.bandwidth()).attr("width",(d,i)=>x(100)-x(share[i])).attr("fill","#ff7f0e");
  hCategories.forEach((c,i)=>{
    const cy=y(c)+y.bandwidth()/2-1;
    T(x(share[i]/2),cy,hWith[i],{size:17,anchor:"middle"});
    T(x((share[i]+100)/2),cy,hWithout[i],{size:17,anchor:"middle"});
  });
  frame(109.5,1321.5,492,1524.5,1.8);
  AX(d3.axisBottom(x).tickValues([0,20,40,60,80,100]).tickSize(7).tickPadding(9),0,1524.5,17);
  AX(d3.axisLeft(y).tickSize(8).tickPadding(8),109.5,0,17);
  [["with_E2F_motif","#1f77b4",1339],["no_E2F_motif","#ff7f0e",1358.7]].forEach(l=>{
    svg.append("rect").attr("x",220.4).attr("y",l[2]-6.3).attr("width",17.6).attr("height",12.6).attr("fill",l[1]);
    T(247.6,l[2],l[0],{size:16.6});
  });
  T(300,1457.7,"p=2.5e-208",{size:16.5,anchor:"middle",len:103.6});
  T(301.3,1577,"Percentage of ATAC regions",{size:20,anchor:"middle",len:289});
}

// ---------- PANEL I ----------
{
  const rule=(y,w)=>svg.append("line").attr("x1",59.2).attr("x2",501.7).attr("y1",y).attr("y2",y).attr("stroke","#000").attr("stroke-width",w);
  rule(1674.3,2.6); rule(1718.7,1.4); rule(1988.7,2.6);
  const cx=[70,228,327,409.8,490.4], as=["start","end","end","end","end"];
  iHeader.forEach((h,i)=>T(cx[i],1696.7,h,{family:LS,size:17.2,anchor:as[i]}));
  const ry=d3.scalePoint().domain(d3.range(9)).range([1740.7,1966]);
  iRows.forEach((r,k)=>r.forEach((s,i)=>T(cx[i],ry(k),s,{family:LS,size:17.2,anchor:as[i]})));
}

// ---------- PANEL G ----------
const hyphen=f=>d=>f(d).replace("\u2212","-");
function gsea(o){
  const x=d3.scaleLinear().domain([0,2565]).range([o.left,o.right]);
  const yES=d3.scaleLinear().domain(o.esDomain).range([o.esB,o.top]);
  const yM=d3.scaleLinear().domain([-3.6,3.8]).range([o.bottom,o.barB]);
  const clip="clip"+o.id;
  defs.append("clipPath").attr("id",clip).append("rect").attr("x",o.left).attr("y",o.top).attr("width",o.right-o.left).attr("height",o.esB-o.top);
  svg.append("line").attr("x1",o.left).attr("x2",o.right).attr("y1",yES(0)).attr("y2",yES(0)).attr("stroke","#888").attr("stroke-width",1);
  svg.append("path").attr("d",d3.line().x(d=>x(d[0])).y(d=>yES(d[1]))(o.es)).attr("fill","none")
    .attr("stroke","#83c341").attr("stroke-width",o.lw).attr("stroke-linejoin","round").attr("clip-path",`url(#${clip})`);
  frame(o.left,o.top,o.right,o.esB,1.3);
  svg.append("g").selectAll("line").data(o.hits).join("line")
    .attr("x1",d=>x(d)).attr("x2",d=>x(d)).attr("y1",o.esB).attr("y2",o.hitB)
    .attr("stroke","#1f77b4").attr("stroke-width",1.1).attr("opacity",.8);
  const gid="grad"+o.id;
  const lg=defs.append("linearGradient").attr("id",gid);
  [[0,"#e00000"],[.03,"#ff0000"],[.44,"#ffb3b3"],[.4401,"#b3b3ff"],[.93,"#0a1cff"],[1,"#00006b"]].forEach(s=>lg.append("stop").attr("offset",s[0]).attr("stop-color",s[1]));
  svg.append("rect").attr("x",o.left).attr("y",o.hitB).attr("width",o.right-o.left).attr("height",o.barB-o.hitB).attr("fill",`url(#${gid})`);
  svg.append("path").attr("d",d3.area().x(d=>x(d)).y0(yM(0)).y1((d,i)=>yM(metricValue[i]))(metricRank)).attr("fill","#c9d4de");
  svg.append("line").attr("x1",x(1129)).attr("x2",x(1129)).attr("y1",o.barB).attr("y2",o.bottom).attr("stroke","#666").attr("stroke-width",1.2).attr("stroke-dasharray","4 2");
  svg.append("path").attr("d",`M${o.left},${o.hitB}V${o.bottom}H${o.right}V${o.hitB}`).attr("fill","none").attr("stroke","#000").attr("stroke-width",1.3);
  svg.append("line").attr("x1",o.left).attr("x2",o.right).attr("y1",o.hitB).attr("y2",o.hitB).attr("stroke","#000").attr("stroke-width",1.1);
  AX(d3.axisBottom(x).tickValues([0,500,1000,1500,2000,2500]).tickSize(6).tickPadding(o.xPad).tickFormat(d3.format("d")),0,o.bottom,o.tickFs,1.2);
  AX(d3.axisLeft(yES).tickValues(o.esTicks).tickSize(6).tickPadding(5).tickFormat(hyphen(d3.format(".1f"))),o.left,0,o.tickFs,1.2);
  AX(d3.axisLeft(yM).tickValues([-2,0,2]).tickSize(0).tickPadding(o.mPad).tickFormat(hyphen(d3.format(".1f"))),o.left,0,o.tickFs,1.2);
  T(o.titleX,o.titleY,o.title,{size:14,weight:"bold",anchor:"middle",len:o.titleLen});
  o.stats.forEach((s,i)=>T(o.statX,o.statY[i],s,{size:o.statFs,len:o.statLen}));
  T(o.zeroX,yM(0)-2,"Zero score at 1129",{size:o.zeroFs,anchor:"middle",len:o.zeroLen});
  T(o.labX,o.bottom+o.labDy,"Rank in Ordered Dataset",{size:o.labFs,anchor:"middle",len:o.labLen});
  const esMid=(o.top+o.esB)/2+2, mMid=(o.barB+o.bottom)/2+1;
  T(o.ylab[0],esMid,"Enrichment",{size:13,anchor:"middle",rot:-90,len:o.ylen[0]});
  T(o.ylab[1],esMid,"Score",{size:13,anchor:"middle",rot:-90,len:o.ylen[0]*.445});
  T(o.ylab[2],mMid,"Ranked list",{size:13,anchor:"middle",rot:-90,len:o.ylen[1]});
  T(o.ylab[3],mMid,"metric",{size:13,anchor:"middle",rot:-90,len:o.ylen[1]*.52});
}
gsea({id:1,title:gseaTitles[0],stats:gseaStats[0],es:es1,hits:hits1,left:653.7,right:1009.3,top:1033.5,esB:1157.4,hitB:1173,barB:1189,bottom:1281.9,
  esDomain:[-.131,.579],esTicks:[0,.2,.4],lw:8.5,tickFs:12.6,xPad:7,mPad:12,titleX:831.7,titleY:1015.6,titleLen:255,statX:725.7,statY:[1089.5,1113.8,1139],statFs:16.4,statLen:98,
  zeroX:810,zeroFs:15,zeroLen:145.7,labX:831.7,labDy:39,labFs:15.5,labLen:190,ylab:[589.3,606,583,600.7],ylen:[87,84]});
gsea({id:2,title:gseaTitles[1],stats:gseaStats[1],es:es2,hits:hits2,left:641,right:1014,top:1388,esB:1518.8,hitB:1534.8,barB:1551.4,bottom:1648.7,
  esDomain:[-.1156,.5172],esTicks:[0,.2,.4],lw:7.5,tickFs:11.2,xPad:6,mPad:10,titleX:827.3,titleY:1367.7,titleLen:254,statX:716,statY:[1448,1474,1500],statFs:13.8,statLen:82,
  zeroX:805,zeroFs:12.7,zeroLen:122.7,labX:827,labDy:32,labFs:13,labLen:159,ylab:[586.7,600,581,596],ylen:[73.5,70]});
gsea({id:3,title:gseaTitles[2],stats:gseaStats[2],es:es3,hits:hits3,left:640.5,right:1014,top:1744,esB:1874.8,hitB:1890.8,barB:1907.4,bottom:2004.7,
  esDomain:[-.207,.5],esTicks:[-.2,0,.2,.4],lw:7.5,tickFs:11.2,xPad:6,mPad:10,titleX:827.3,titleY:1724,titleLen:254,statX:715.5,statY:[1804,1831,1856.5],statFs:13.8,statLen:82,
  zeroX:805,zeroFs:12.7,zeroLen:122.7,labX:827,labDy:32,labFs:13,labLen:159,ylab:[586.7,600,581,596],ylen:[73.5,70]});

// ---------- PANEL J ----------
{
  const col=divColor(-2.76,2.58);
  const o={x0:1127.7,x1:1535,y0:990.7,y1:2008.3,rows:jRowNames,cols:jColNames,values:jValues,color:col,tick:9.5,pad:6,fs:10.8,fw:1.8,tw:1.3};
  const {x,y}=heatmap(o);
  dendrogram(jRowTree,i=>y(jRowNames[i])+y.bandwidth()/2,d=>[o.x0-d[1],d[0]],1.4);
  svg.append("g").selectAll("rect").data(jGroups).join("rect")
    .attr("x",d=>x(jColNames[d[1]])-2).attr("width",d=>x(jColNames[d[2]])+x.bandwidth()-x(jColNames[d[1]])+2)
    .attr("y",2017).attr("height",54).attr("fill",d=>d[0]);
  const bx=AX(d3.axisBottom(x).tickSize(9).tickPadding(0),0,o.y1,13.5,1.4);
  bx.selectAll(".tick text").attr("text-anchor","end").attr("dominant-baseline","central").attr("dy",0)
    .attr("transform","translate(0,18) rotate(-90)").attr("y",0).attr("x",0);
  colorbar(1620.8,1637,1346.4,1652.4,-2.76,2.58,[-2,-1,0,1,2],col,15.8,d3.format("d"),7);
  T(1330.8,2088,"Cooperation response TGF\u03b2 targets",{size:20.5,anchor:"middle",fill:BLUE,len:375});
}
</script>
</body></html>
